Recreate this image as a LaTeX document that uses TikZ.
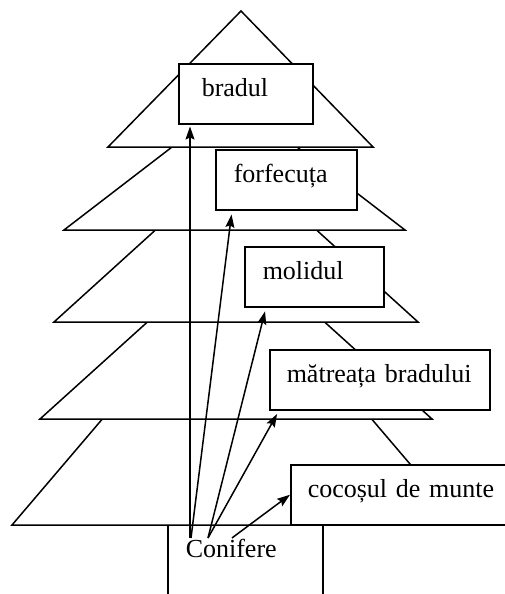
\documentclass[tikz,border=0pt]{standalone}
\usepackage{fontspec}
\setmainfont{Liberation Serif}
\usetikzlibrary{arrows.meta}

\begin{document}
\begin{tikzpicture}[x=0.5pt, y=-0.5pt, line width=0.75pt, >={Stealth[length=6.5pt, width=4.5pt, inset=1pt]}, font=\fontsize{13}{15}\selectfont]
        \tikzstyle{box}=[rectangle, draw=black, fill=white, anchor=north west, align=left, inner xsep=9pt, minimum height=30pt, text height=9pt, text depth=6pt]
        \tikzstyle{tier}=[draw=black, fill=white, line join=miter]

        \useasboundingbox (0,0) rectangle (504,594);

        % Trunk
        \node[draw=black, fill=white, anchor=north west, minimum width=77.5pt, minimum height=50pt, inner sep=0pt] (trunk) at (167,524) {};

        % Tiers, bottom one first
        \draw[tier] (237,261) -- (12,525) -- (462,525) -- cycle;
        \draw[tier] (236,242) -- (40,419) -- (432,419) -- cycle;
        \draw[tier] (236,157) -- (54,322) -- (418,322) -- cycle;
        \draw[tier] (234.5,99) -- (64,230) -- (405,230) -- cycle;
        \draw[tier] (241,11) -- (108,147) -- (373,147) -- cycle;

        % Nodes
        \node[box, inner xsep=11.5pt, text width=44pt] (brad) at (178,63) {bradul};
        \node[box, text width=52.5pt] (forf) at (215,149) {forfecuța};
        \node[box, text width=51.5pt] (molid) at (244,246) {molidul};
        \node[box, inner xsep=8.5pt, text width=93pt] (matr) at (269,349) {mătreața bradului};
        \node[box, inner xsep=8.5pt, text width=100pt] (cocos) at (290,464) {cocoșul de munte};
        \node[anchor=base west, inner sep=0pt] (conif) at (185,557) {Conifere};

        % Arrows from Conifere
        \draw[->, shorten >=1pt] ([xshift=2.5pt]conif.north west) -- ([xshift=6pt]brad.south west);
        \draw[->, shorten >=2pt] ([xshift=3pt]conif.north west) -- ([xshift=8.5pt]forf.south west);
        \draw[->, shorten >=2pt] ([xshift=11.5pt]conif.north west) -- ([xshift=11pt]molid.south west);
        \draw[->, shorten >=2pt] ([xshift=11.5pt]conif.north west) -- ([xshift=5pt]matr.south west);
        \draw[->] ([xshift=23.5pt]conif.north west) -- (cocos.west);
\end{tikzpicture}
\end{document}
